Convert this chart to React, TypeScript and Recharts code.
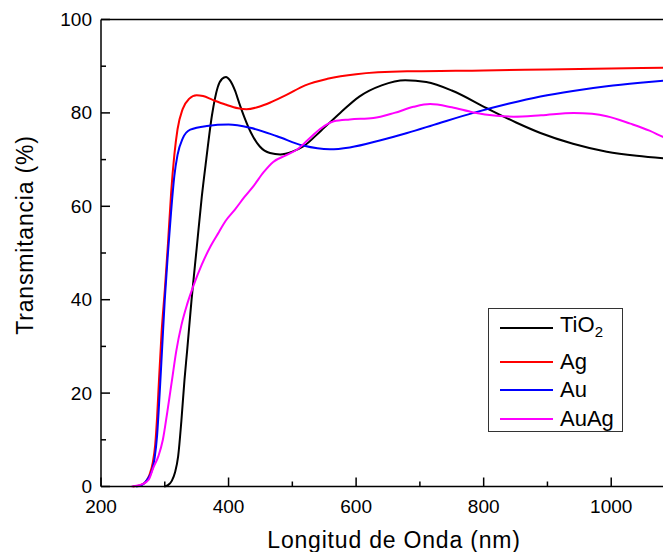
import React from 'react';
import { LineChart, Line, XAxis, YAxis, ReferenceLine, Legend, Label } from 'recharts';

const FONT = '"Liberation Sans", Arial, Helvetica, sans-serif';

// TiO2
const tio2Wavelength = [299, 305, 311, 316, 321, 326, 331, 335, 342, 350, 358, 365, 374, 383, 390, 396, 402, 410, 417, 425, 435, 449, 465, 481, 500, 517, 545, 575, 605, 640, 677, 710, 750, 805, 850, 889, 940, 993, 1040, 1100];
const tio2Values = [0, 0.3, 1.2, 3, 6.5, 14, 23, 29, 40, 51, 62, 70, 79.5, 85.5, 87.3, 87.7, 87, 84.8, 82, 79, 75.8, 72.8, 71.4, 71.1, 71.7, 72.8, 76.2, 80, 83.5, 85.9, 87, 86.6, 84.8, 81, 78, 75.7, 73.4, 71.7, 70.8, 70.1];

// Ag
const agWavelength = [250, 262, 270, 276, 281, 285, 288, 291, 295, 300, 305, 310, 315, 320, 328, 338, 350, 360, 375, 395, 415, 428, 445, 460, 490, 520, 555, 600, 680, 800, 900, 1000, 1100];
const agValues = [0, 0.3, 1, 2.5, 5, 9, 15, 23, 33, 42, 52, 63, 71, 76.5, 80.8, 83, 83.8, 83.6, 82.8, 81.8, 81, 80.8, 81.2, 81.9, 83.8, 85.9, 87.3, 88.3, 88.9, 89.1, 89.3, 89.5, 89.7];

// Au
const auWavelength = [255, 265, 272, 280, 284, 288, 292, 296, 300, 305, 310, 315, 320, 328, 340, 366, 400, 434, 476, 517, 559, 590, 640, 680, 730, 784, 840, 889, 940, 993, 1050, 1100];
const auValues = [0, 0.4, 1.4, 3.5, 6, 11, 20, 30, 40, 50, 59, 66.5, 71, 74.5, 76.4, 77.2, 77.5, 76.8, 75, 73, 72.2, 72.6, 74.2, 75.7, 77.8, 80, 82, 83.5, 84.7, 85.7, 86.5, 87.1];

// AuAg
const auagWavelength = [248, 265, 275, 282, 290, 297, 304, 311, 318, 326, 335, 345, 358, 372, 385, 395, 410, 425, 440, 455, 470, 490, 507, 525, 543, 565, 590, 627, 660, 690, 716, 750, 784, 820, 847, 890, 941, 970, 993, 1030, 1060, 1082, 1100];
const auagValues = [0, 0.5, 1.5, 4, 6.5, 10, 16, 22.5, 29, 34.5, 39, 43, 47.5, 51.5, 54.5, 56.8, 59.3, 62, 64.5, 67.3, 69.5, 70.9, 72.1, 74.3, 76.5, 78.2, 78.6, 78.9, 80, 81.3, 81.9, 81.2, 80.1, 79.4, 79.2, 79.5, 80, 79.8, 79.3, 77.7, 76.2, 74.8, 73.8];

const seriesNames = ['TiO2', 'Ag', 'Au', 'AuAg'];
const seriesColors = ['#000000', '#ff0000', '#0000ff', '#ff00ff'];

const xTicks = [200, 300, 400, 500, 600, 700, 800, 900, 1000, 1100];
const xTickLabels = [200, 400, 600, 800, 1000];
const yTicks = [0, 10, 20, 30, 40, 50, 60, 70, 80, 90, 100];
const yTickLabels = [0, 20, 40, 60, 80, 100];

const xTitle = 'Longitud de Onda (nm)';
const yTitle = 'Transmitancia (%)';

const zip = (xs: number[], ys: number[]) => xs.map((wl, i) => ({ wl, t: ys[i] }));

const series = [
  zip(tio2Wavelength, tio2Values),
  zip(agWavelength, agValues),
  zip(auWavelength, auValues),
  zip(auagWavelength, auagValues),
];

const XTick = (props: any) => {
  const { x, y, payload } = props;
  const major = xTickLabels.includes(payload.value);
  return (
    <g>
      <line x1={x} x2={x} y1={y} y2={y - (major ? 9 : 5)} stroke="#000" strokeWidth={1.5} />
      {major && (
        <text x={x} y={y + 26.5} textAnchor="middle" fontSize={19} fontFamily={FONT} fill="#000">
          {payload.value}
        </text>
      )}
    </g>
  );
};

const YTick = (props: any) => {
  const { x, y, payload } = props;
  const major = yTickLabels.includes(payload.value);
  return (
    <g>
      <line x1={x} x2={x + (major ? 9 : 5)} y1={y} y2={y} stroke="#000" strokeWidth={1.5} />
      {major && (
        <text x={x - 9} y={y} textAnchor="end" dominantBaseline="central" fontSize={19} fontFamily={FONT} fill="#000">
          {payload.value}
        </text>
      )}
    </g>
  );
};

const renderLegend = (props: any) => {
  const payload = [...(props.payload || [])].sort(
    (a: any, b: any) => seriesNames.indexOf(a.value) - seriesNames.indexOf(b.value)
  );
  const rowCenters = [19, 52.5, 81, 109.5];
  return (
    <div
      style={{
        width: 135,
        height: 124,
        boxSizing: 'border-box',
        border: '1.5px solid #333',
        background: '#fff',
        position: 'relative',
        fontFamily: FONT,
        fontSize: 22,
        color: '#000',
      }}
    >
      {payload.map((p: any, i: number) => (
        <div
          key={p.value}
          style={{
            position: 'absolute',
            left: 11,
            top: rowCenters[i] - 13,
            height: 26,
            display: 'flex',
            alignItems: 'center',
            whiteSpace: 'nowrap',
          }}
        >
          <span style={{ display: 'inline-block', width: 53, height: 2, background: p.color }} />
          <span style={{ marginLeft: 7, lineHeight: '26px' }}>
            {p.value === 'TiO2' ? (
              <>
                TiO<sub style={{ fontSize: 15, verticalAlign: -5 }}>2</sub>
              </>
            ) : (
              p.value
            )}
          </span>
        </div>
      ))}
    </div>
  );
};

export default function App() {
  return (
    <div style={{ position: 'absolute', left: 0, top: 0, width: 663, height: 552, overflow: 'hidden', background: '#fff' }}>
      <LineChart width={700} height={552} margin={{ top: 19.5, right: 25, bottom: 35.5, left: 0 }}>
        <XAxis
          dataKey="wl"
          type="number"
          domain={[200, 1100]}
          ticks={xTicks}
          interval={0}
          allowDataOverflow
          height={30}
          tickSize={0}
          tickMargin={0}
          tickLine={false}
          axisLine={{ stroke: '#000', strokeWidth: 1.5 }}
          tick={<XTick />}
        >
          <Label
            content={(p: any) => {
              const vb = p.viewBox || { x: 101, y: 486.5, width: 574, height: 30 };
              return (
                <text
                  x={vb.x + vb.width / 2 + 6}
                  y={vb.y + 61.5}
                  textAnchor="middle"
                  fontSize={23}
                  letterSpacing={0.8}
                  fontFamily={FONT}
                  fill="#000"
                >
                  {xTitle}
                </text>
              );
            }}
          />
        </XAxis>
        <YAxis
          type="number"
          domain={[0, 100]}
          ticks={yTicks}
          interval={0}
          width={101}
          tickSize={0}
          tickMargin={0}
          tickLine={false}
          axisLine={{ stroke: '#000', strokeWidth: 1.5 }}
          tick={<YTick />}
        >
          <Label
            content={(p: any) => {
              const vb = p.viewBox || { x: 0, y: 19.5, width: 101, height: 467 };
              const cx = vb.x + 25;
              const cy = vb.y + vb.height / 2 - 18;
              return (
                <text
                  x={cx}
                  y={cy}
                  transform={`rotate(-90, ${cx}, ${cy})`}
                  textAnchor="middle"
                  dominantBaseline="central"
                  fontSize={23}
                  letterSpacing={0.8}
                  fontFamily={FONT}
                  fill="#000"
                >
                  {yTitle}
                </text>
              );
            }}
          />
        </YAxis>
        <ReferenceLine y={100} stroke="#000" strokeWidth={1.5} />
        <ReferenceLine x={1100} stroke="#000" strokeWidth={1.5} />
        {series.map((data, i) => (
          <Line
            key={seriesNames[i]}
            data={data}
            dataKey="t"
            name={seriesNames[i]}
            type="monotone"
            stroke={seriesColors[i]}
            strokeWidth={2}
            dot={false}
            activeDot={false}
            isAnimationActive={false}
          />
        ))}
        <Legend
          layout="horizontal"
          verticalAlign="middle"
          align="center"
          itemSorter={null as any}
          content={renderLegend}
          wrapperStyle={{ left: 488, top: 308, width: 135, height: 124 }}
        />
      </LineChart>
    </div>
  );
}
